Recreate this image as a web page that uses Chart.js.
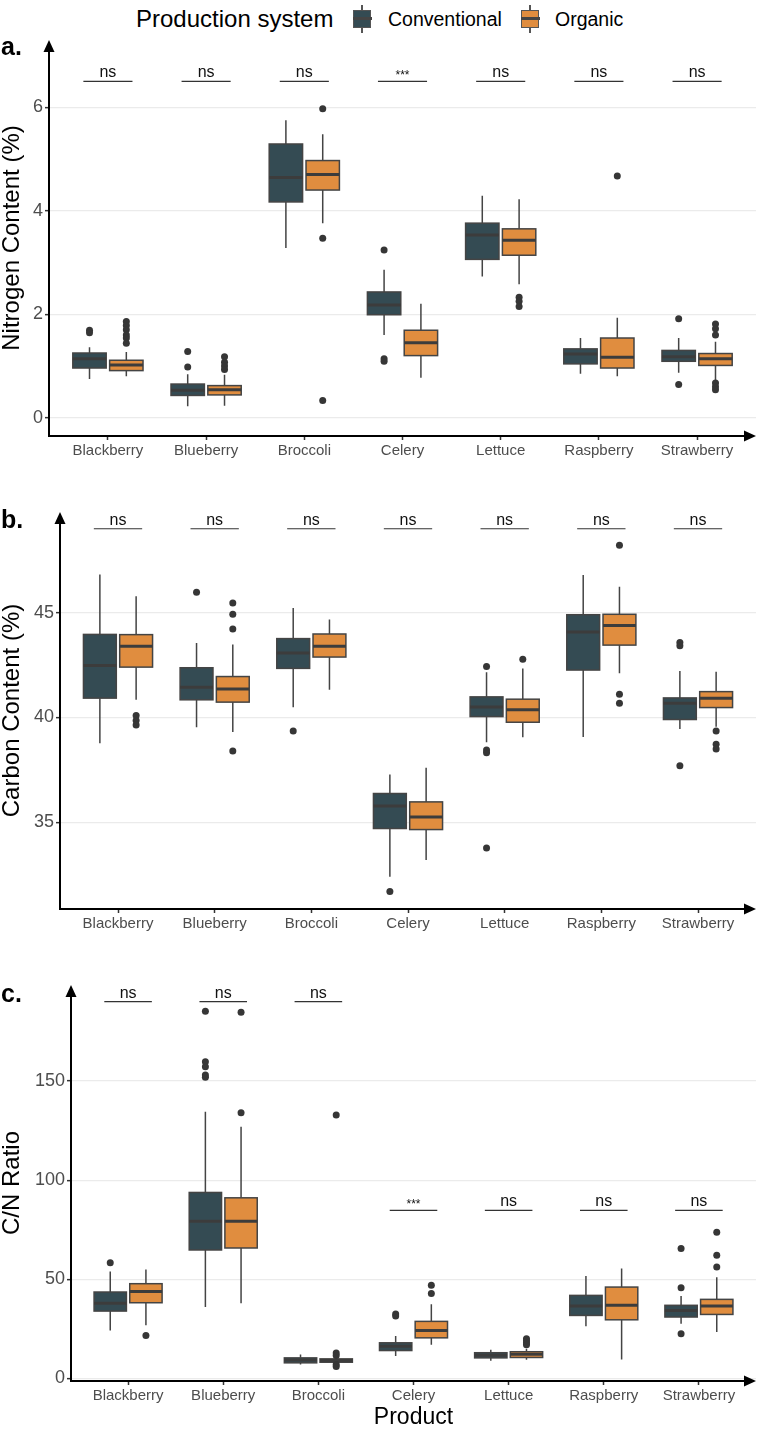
<!DOCTYPE html>
<html>
<head>
<meta charset="utf-8">
<script src="https://cdn.jsdelivr.net/npm/chart.js@4.4.0/dist/chart.umd.min.js"></script>
<style>
  body { margin: 0; background: #fff; font-family: "Liberation Sans", Arial, sans-serif; }
  #wrap { position: relative; width: 760px; height: 1429px; overflow: hidden; }
  canvas { position: absolute; left: 0; }
  .tag { position: absolute; left: 1px; font-weight: bold; font-size: 25px; line-height: 25px; }
  .lg { position: absolute; top: 19px; transform: translateY(-50%); white-space: nowrap; color: #000; }
  .key { position: absolute; top: 5px; width: 22px; height: 28px; }
  .key .wh { position: absolute; left: 10px; top: 0; width: 1.5px; height: 28px; background: #555; }
  .key .bx { position: absolute; left: 2px; top: 5px; width: 16px; height: 16px; border: 1.5px solid #555; }
  .key .md { position: absolute; left: 2px; top: 12px; width: 19px; height: 2.5px; background: #444; }
</style>
</head>
<body>
<div id="wrap">
  <div class="lg" style="left:136px;font-size:24px">Production system</div>
  <div class="key" style="left:351px"><div class="wh"></div><div class="bx" style="background:#344B53"></div><div class="md"></div></div>
  <div class="lg" style="left:388px;font-size:19.5px">Conventional</div>
  <div class="key" style="left:519px"><div class="wh"></div><div class="bx" style="background:#E08D3F"></div><div class="md"></div></div>
  <div class="lg" style="left:555px;font-size:19.5px">Organic</div>

  <canvas id="chartA" width="760" height="470" style="top:0"></canvas>
  <canvas id="chartB" width="760" height="480" style="top:470px"></canvas>
  <canvas id="chartC" width="760" height="479" style="top:950px"></canvas>

  <div class="tag" style="top:34px">a.</div>
  <div class="tag" style="top:507px">b.</div>
  <div class="tag" style="top:981px">c.</div>
</div>

<script>
const products = ['Blackberry', 'Blueberry', 'Broccoli', 'Celery', 'Lettuce', 'Raspberry', 'Strawberry'];

// box stats: [lower whisker, q1, median, q3, upper whisker]
const nConv = [
  [0.75, 0.96, 1.14, 1.25, 1.36],
  [0.22, 0.43, 0.53, 0.65, 0.84],
  [3.28, 4.17, 4.64, 5.29, 5.75],
  [1.60, 1.99, 2.18, 2.43, 2.86],
  [2.73, 3.06, 3.53, 3.76, 4.29],
  [0.85, 1.04, 1.23, 1.33, 1.54],
  [0.87, 1.09, 1.18, 1.30, 1.54]
];
const nConvOut = [[1.69, 1.64], [1.28, 0.98], [], [3.24, 1.14, 1.09], [], [], [1.91, 0.64]];
const nOrg = [
  [0.80, 0.91, 1.02, 1.11, 1.27],
  [0.23, 0.44, 0.54, 0.62, 0.83],
  [3.76, 4.40, 4.70, 4.97, 5.48],
  [0.77, 1.20, 1.45, 1.69, 2.20],
  [2.58, 3.14, 3.43, 3.65, 4.22],
  [0.80, 0.96, 1.17, 1.54, 1.93],
  [0.73, 1.01, 1.14, 1.24, 1.47]
];
const nOrgOut = [[1.86, 1.78, 1.70, 1.60, 1.54, 1.44], [1.18, 1.07, 1.00, 0.93], [5.97, 3.47, 0.33], [], [2.33, 2.25, 2.15], [4.67], [1.81, 1.72, 1.60, 0.67, 0.60, 0.54]];
const nSig = ['ns', 'ns', 'ns', '***', 'ns', 'ns', 'ns'];
const nSigY = [6.5, 6.5, 6.5, 6.5, 6.5, 6.5, 6.5];
const nTicks = [0, 2, 4, 6];

const cConv = [
  [38.77, 40.92, 42.48, 43.96, 46.82],
  [39.53, 40.84, 41.44, 42.37, 43.55],
  [40.49, 42.34, 43.07, 43.76, 45.22],
  [32.40, 34.70, 35.77, 36.37, 37.28],
  [38.81, 40.04, 40.50, 40.98, 42.16],
  [39.07, 42.26, 44.08, 44.90, 46.79],
  [39.45, 39.90, 40.68, 40.93, 42.22]
];
const cConvOut = [[], [45.97], [39.35], [31.7], [42.43, 38.44, 38.32, 33.77], [], [43.58, 43.42, 37.70]];
const cOrg = [
  [40.84, 42.40, 43.39, 43.95, 45.78],
  [39.31, 40.73, 41.36, 41.95, 43.48],
  [41.32, 42.88, 43.39, 43.98, 44.67],
  [33.20, 34.65, 35.25, 35.97, 37.60],
  [39.05, 39.77, 40.36, 40.87, 42.33],
  [42.11, 43.45, 44.39, 44.92, 46.23],
  [39.56, 40.47, 40.92, 41.23, 42.18]
];
const cOrgOut = [[40.09, 39.85, 39.64], [45.46, 44.92, 44.22, 38.40], [], [], [42.78], [48.21, 41.11, 40.68], [39.35, 38.72, 38.49]];
const cSig = ['ns', 'ns', 'ns', 'ns', 'ns', 'ns', 'ns'];
const cSigY = [49, 49, 49, 49, 49, 49, 49];
const cTicks = [35, 40, 45];

const rConv = [
  [24.2, 34.0, 38.0, 43.6, 54.0],
  [36.0, 64.8, 79.3, 93.8, 134.5],
  [7.1, 7.9, 9.3, 10.4, 12.1],
  [11.3, 14.1, 16.2, 18.0, 21.4],
  [9.0, 10.4, 11.7, 13.0, 14.5],
  [26.3, 31.8, 36.5, 41.9, 51.7],
  [27.6, 31.0, 34.3, 36.9, 41.6]
];
const rConvOut = [[58.4], [185.2, 159.7, 157.2, 153.0, 151.9], [], [32.5, 31.5], [], [], [65.5, 45.8, 22.6]];
const rOrg = [
  [26.8, 38.2, 43.9, 47.8, 55.0],
  [38.0, 65.8, 79.3, 91.1, 126.9],
  [8.0, 8.2, 9.1, 9.9, 10.8],
  [17.0, 20.5, 24.2, 28.8, 37.4],
  [9.5, 10.6, 12.2, 13.5, 15.0],
  [9.6, 29.6, 36.9, 46.1, 55.4],
  [23.4, 32.3, 36.5, 39.9, 51.0]
];
const rOrgOut = [[21.7], [184.7, 134.0], [132.8, 12.8, 11.6, 7.1, 6.1], [47.0, 42.8], [20.0, 19.0, 18.0, 17.0], [], [73.7, 62.1, 56.2]];
const rSig = ['ns', 'ns', 'ns', '***', 'ns', 'ns', 'ns'];
const rSigY = [190, 190, 190, 84.8, 84.8, 84.8, 84.8];
const rTicks = [0, 50, 100, 150];

const convColor = '#344B53';
const orgColor = '#E08D3F';
const shift = 0.1875;   // dodge offset of each box
const halfBox = 0.17;

Chart.defaults.font.family = "'Liberation Sans', Arial, sans-serif";

function toPoints(outs, dx) {
  return outs.flatMap((vals, i) => vals.map(v => ({ x: i + dx, y: v })));
}

function boxPlugin(groups, sig, sigY) {
  return {
    id: 'boxes',
    beforeDatasetsDraw(chart) {
      const { ctx, scales: { x, y } } = chart;
      ctx.save();
      groups.forEach(g => {
        g.stats.forEach((s, i) => {
          const c = i + g.dx;
          const xl = x.getPixelForValue(c - halfBox);
          const xr = x.getPixelForValue(c + halfBox);
          const xm = x.getPixelForValue(c);
          const [lo, q1, md, q3, hi] = s.map(v => y.getPixelForValue(v));
          ctx.strokeStyle = '#444';
          ctx.lineWidth = 1.5;
          ctx.beginPath();
          ctx.moveTo(xm, hi); ctx.lineTo(xm, q3);
          ctx.moveTo(xm, q1); ctx.lineTo(xm, lo);
          ctx.stroke();
          ctx.fillStyle = g.color;
          ctx.fillRect(xl, q3, xr - xl, q1 - q3);
          ctx.strokeRect(xl, q3, xr - xl, q1 - q3);
          ctx.lineWidth = 3;
          ctx.strokeStyle = '#3C3C3C';
          ctx.beginPath();
          ctx.moveTo(xl, md); ctx.lineTo(xr, md);
          ctx.stroke();
        });
      });
      ctx.restore();
    },
    afterDraw(chart) {
      const { ctx, chartArea: a, scales: { x, y } } = chart;
      ctx.save();
      // significance brackets
      sig.forEach((lab, i) => {
        const x0 = x.getPixelForValue(i - 0.25), x1 = x.getPixelForValue(i + 0.25);
        const yy = y.getPixelForValue(sigY[i]);
        ctx.strokeStyle = '#333';
        ctx.lineWidth = 1.2;
        ctx.beginPath(); ctx.moveTo(x0, yy); ctx.lineTo(x1, yy); ctx.stroke();
        ctx.fillStyle = '#111';
        ctx.textAlign = 'center';
        ctx.textBaseline = 'alphabetic';
        if (lab === 'ns') {
          ctx.font = "16px 'Liberation Sans', Arial, sans-serif";
          ctx.fillText(lab, (x0 + x1) / 2, yy - 4);
        } else {
          ctx.font = "12px 'Liberation Sans', Arial, sans-serif";
          ctx.fillText(lab, (x0 + x1) / 2, yy - 2);
        }
      });
      // axis lines with arrows
      ctx.strokeStyle = '#000';
      ctx.fillStyle = '#000';
      ctx.lineWidth = 2;
      ctx.beginPath();
      ctx.moveTo(a.left, a.bottom); ctx.lineTo(a.left, a.top + 8);
      ctx.moveTo(a.left - 1, a.bottom); ctx.lineTo(a.right - 8, a.bottom);
      ctx.stroke();
      ctx.beginPath();
      ctx.moveTo(a.left, a.top); ctx.lineTo(a.left - 5.5, a.top + 12); ctx.lineTo(a.left + 5.5, a.top + 12);
      ctx.closePath(); ctx.fill();
      ctx.beginPath();
      ctx.moveTo(a.right, a.bottom); ctx.lineTo(a.right - 12, a.bottom - 5.5); ctx.lineTo(a.right - 12, a.bottom + 5.5);
      ctx.closePath(); ctx.fill();
      ctx.restore();
    }
  };
}

function makeChart(id, p) {
  return new Chart(document.getElementById(id), {
    type: 'scatter',
    data: {
      datasets: [
        { label: 'Conventional', data: toPoints(p.convOut, -shift), backgroundColor: '#363636', borderWidth: 0, pointRadius: 3.5 },
        { label: 'Organic', data: toPoints(p.orgOut, shift), backgroundColor: '#363636', borderWidth: 0, pointRadius: 3.5 }
      ]
    },
    options: {
      responsive: false,
      animation: false,
      events: [],
      layout: { padding: { top: p.padTop, right: 3, left: 0, bottom: 0 } },
      plugins: { legend: { display: false }, tooltip: { enabled: false } },
      scales: {
        x: {
          type: 'linear', min: -0.6, max: 6.6,
          afterBuildTicks: s => { s.ticks = products.map((_, i) => ({ value: i })); },
          afterFit: s => { s.height = p.xHeight; },
          ticks: { callback: v => products[v], font: { size: 15 }, color: '#4D4D4D', padding: 2, maxRotation: 0, autoSkip: false },
          grid: { drawOnChartArea: false, tickColor: '#333', tickLength: 4, tickWidth: 1.5 },
          border: { display: false },
          title: { display: !!p.xTitle, text: p.xTitle || '', font: { size: 23, lineHeight: 1 }, color: '#000', padding: 0 }
        },
        y: {
          min: p.min, max: p.max,
          afterBuildTicks: s => { s.ticks = p.ticks.map(v => ({ value: v })); },
          afterFit: s => { s.width = p.yWidth; },
          ticks: { font: { size: 18 }, color: '#4D4D4D', padding: 2 },
          grid: { color: '#EBEBEB', lineWidth: 1.3, tickColor: '#333', tickLength: 4, tickWidth: 1.5 },
          border: { display: false },
          title: { display: true, text: p.yTitle, font: { size: 24, lineHeight: 1 }, color: '#000', padding: 0 }
        }
      }
    },
    plugins: [boxPlugin([{ stats: p.conv, dx: -shift, color: convColor }, { stats: p.org, dx: shift, color: orgColor }], p.sig, p.sigY)]
  });
}

makeChart('chartA', {
  conv: nConv, org: nOrg, convOut: nConvOut, orgOut: nOrgOut, sig: nSig, sigY: nSigY, ticks: nTicks,
  min: -0.354, max: 7.30, padTop: 40, xHeight: 34, yWidth: 49, yTitle: 'Nitrogen Content (%)'
});
makeChart('chartB', {
  conv: cConv, org: cOrg, convOut: cConvOut, orgOut: cOrgOut, sig: cSig, sigY: cSigY, ticks: cTicks,
  min: 30.86, max: 49.80, padTop: 42, xHeight: 41, yWidth: 60, yTitle: 'Carbon Content (%)'
});
makeChart('chartC', {
  conv: rConv, org: rOrg, convOut: rConvOut, orgOut: rOrgOut, sig: rSig, sigY: rSigY, ticks: rTicks,
  min: -1.26, max: 198.4, padTop: 35, xHeight: 48, yWidth: 71, yTitle: 'C/N Ratio', xTitle: 'Product'
});
</script>
</body>
</html>
